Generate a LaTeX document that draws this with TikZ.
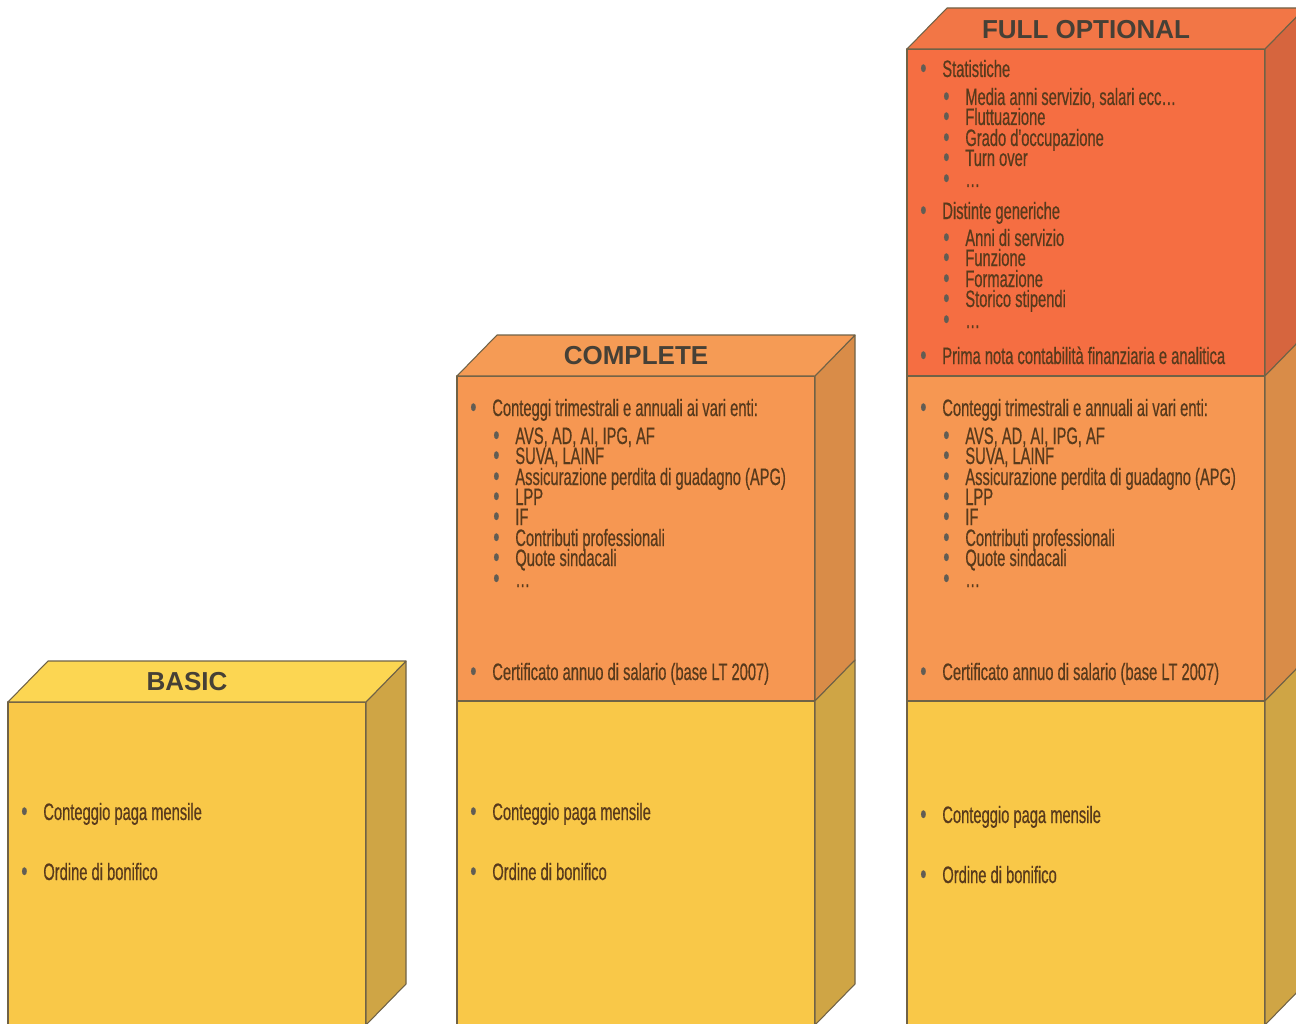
\documentclass[tikz,border=0pt]{standalone}
\usepackage{fontspec}
\setmainfont{Liberation Sans}
\newfontfamily\narrowfont[FakeStretch=0.62, FakeBold=0.5]{Liberation Sans}
\usepackage{xcolor}
\usepackage{tikz}
\definecolor{yellowTop}{RGB}{252,214,82}
\definecolor{yellowFront}{RGB}{249,200,72}
\definecolor{yellowSide}{RGB}{207,165,69}
\definecolor{orangeTop}{RGB}{245,155,85}
\definecolor{orangeFront}{RGB}{246,151,82}
\definecolor{orangeSide}{RGB}{217,140,72}
\definecolor{redTop}{RGB}{242,118,70}
\definecolor{redFront}{RGB}{245,110,66}
\definecolor{redSide}{RGB}{214,101,62}
\definecolor{edgeline}{RGB}{112,98,70}
\definecolor{inkbrown}{RGB}{88,58,28}
\definecolor{titlegray}{RGB}{70,64,54}
\newcommand{\bul}[1]{\makebox[0.44cm][l]{{\fontsize{16}{16}\selectfont\color{titlegray!85}\raisebox{-0.3pt}{\textbullet}}}#1}
\tikzset{
    face/.style={draw=edgeline, line width=0.6pt, line join=round},
    entry/.style={anchor=base west, inner sep=0pt, text=inkbrown, font=\narrowfont\fontsize{13.5}{14}\selectfont},
    boxtitle/.style={inner sep=0pt, text=titlegray, font=\fontsize{14.8}{15}\selectfont\bfseries}
}

\begin{document}
\begin{tikzpicture}[x=0.02cm, y=-0.02cm]
    \useasboundingbox (0,0) rectangle (1296,1024);
    \clip (0,0) rectangle (1296,1024);

    % BASIC
    \filldraw[face, fill=yellowFront] (8,702) rectangle (366,1025);
    \filldraw[face, fill=yellowSide] (366,702) -- (406,661) -- (406,984) -- (366,1025) -- cycle;
    \filldraw[face, fill=yellowTop] (8,702) -- (48,661) -- (406,661) -- (366,702) -- cycle;

    % COMPLETE
    \filldraw[face, fill=orangeFront] (457,376) rectangle (815,701);
    \filldraw[face, fill=yellowFront] (457,701) rectangle (815,1025);
    \filldraw[face, fill=orangeSide] (815,376) -- (855,335) -- (855,660) -- (815,701) -- cycle;
    \filldraw[face, fill=yellowSide] (815,701) -- (855,660) -- (855,984) -- (815,1025) -- cycle;
    \filldraw[face, fill=orangeTop] (457,376) -- (497,335) -- (855,335) -- (815,376) -- cycle;

    % FULL OPTIONAL
    \filldraw[face, fill=redFront] (907,49) rectangle (1265,376);
    \filldraw[face, fill=orangeFront] (907,376) rectangle (1265,701);
    \filldraw[face, fill=yellowFront] (907,701) rectangle (1265,1025);
    \filldraw[face, fill=redSide] (1265,49) -- (1305,8) -- (1305,335) -- (1265,376) -- cycle;
    \filldraw[face, fill=orangeSide] (1265,376) -- (1305,335) -- (1305,660) -- (1265,701) -- cycle;
    \filldraw[face, fill=yellowSide] (1265,701) -- (1305,660) -- (1305,984) -- (1265,1025) -- cycle;
    \filldraw[face, fill=redTop] (907,49) -- (947,8) -- (1305,8) -- (1265,49) -- cycle;

    \node[boxtitle] (bTitle) at (187,682) {BASIC};
    \node[entry] (b1) at (21,820) {\bul{Conteggio paga mensile}};
    \node[entry] (b2) at (21,880) {\bul{Ordine di bonifico}};

    \node[boxtitle] (cTitle) at (636,356) {COMPLETE};
    \node[entry] (c1) at (470,416) {\bul{Conteggi trimestrali e annuali ai vari enti:}};
    \node[entry] (c2) at (493,444) {\bul{AVS, AD, AI, IPG, AF}};
    \node[entry] (c3) at (493,464) {\bul{SUVA, LAINF}};
    \node[entry] (c4) at (493,485) {\bul{Assicurazione perdita di guadagno (APG)}};
    \node[entry] (c5) at (493,505) {\bul{LPP}};
    \node[entry] (c6) at (493,525) {\bul{IF}};
    \node[entry] (c7) at (493,546) {\bul{Contributi professionali}};
    \node[entry] (c8) at (493,566) {\bul{Quote sindacali}};
    \node[entry] (c9) at (493,587) {\bul{…}};
    \node[entry] (c10) at (470,680) {\bul{Certificato annuo di salario (base LT 2007)}};
    \node[entry] (c11) at (470,820) {\bul{Conteggio paga mensile}};
    \node[entry] (c12) at (470,880) {\bul{Ordine di bonifico}};

    \node[boxtitle] (fTitle) at (1086,30) {FULL OPTIONAL};
    \node[entry] (f1) at (920,77) {\bul{Statistiche}};
    \node[entry] (f2) at (943,105) {\bul{Media anni servizio, salari ecc…}};
    \node[entry] (f3) at (943,125) {\bul{Fluttuazione}};
    \node[entry] (f4) at (943,146) {\bul{Grado d'occupazione}};
    \node[entry] (f5) at (943,166) {\bul{Turn over}};
    \node[entry] (f6) at (943,187) {\bul{…}};
    \node[entry] (f7) at (920,219) {\bul{Distinte generiche}};
    \node[entry] (f8) at (943,246) {\bul{Anni di servizio}};
    \node[entry] (f9) at (943,266) {\bul{Funzione}};
    \node[entry] (f10) at (943,287) {\bul{Formazione}};
    \node[entry] (f11) at (943,307) {\bul{Storico stipendi}};
    \node[entry] (f12) at (943,328) {\bul{…}};
    \node[entry] (f13) at (920,364) {\bul{Prima nota contabilità finanziaria e analitica}};
    \node[entry] (f14) at (920,416) {\bul{Conteggi trimestrali e annuali ai vari enti:}};
    \node[entry] (f15) at (943,444) {\bul{AVS, AD, AI, IPG, AF}};
    \node[entry] (f16) at (943,464) {\bul{SUVA, LAINF}};
    \node[entry] (f17) at (943,485) {\bul{Assicurazione perdita di guadagno (APG)}};
    \node[entry] (f18) at (943,505) {\bul{LPP}};
    \node[entry] (f19) at (943,525) {\bul{IF}};
    \node[entry] (f20) at (943,546) {\bul{Contributi professionali}};
    \node[entry] (f21) at (943,566) {\bul{Quote sindacali}};
    \node[entry] (f22) at (943,587) {\bul{…}};
    \node[entry] (f23) at (920,680) {\bul{Certificato annuo di salario (base LT 2007)}};
    \node[entry] (f24) at (920,823) {\bul{Conteggio paga mensile}};
    \node[entry] (f25) at (920,883) {\bul{Ordine di bonifico}};
\end{tikzpicture}
\end{document}
